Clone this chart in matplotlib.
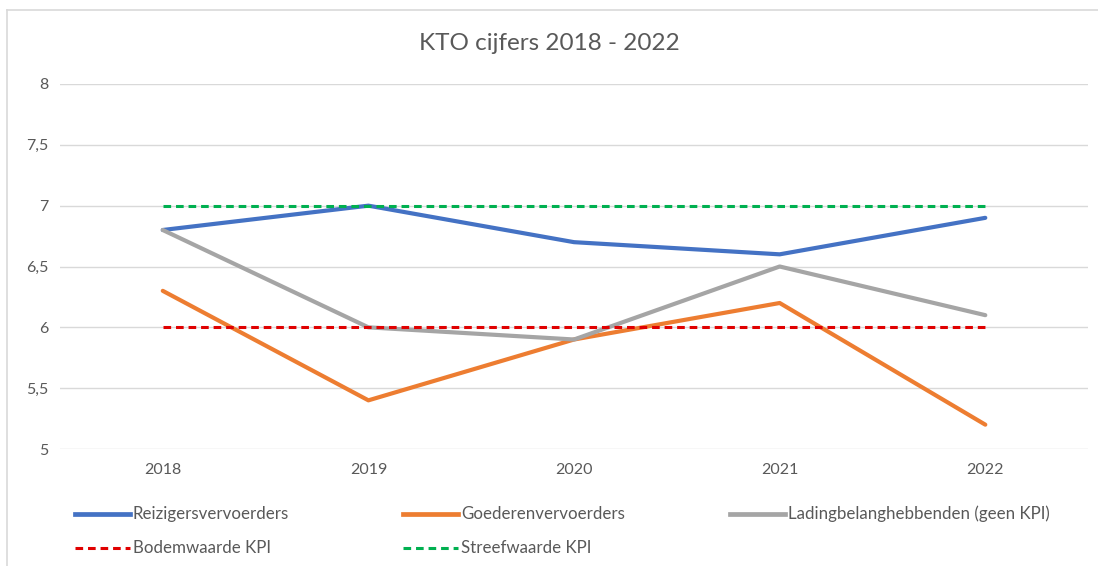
import matplotlib
matplotlib.use('Agg')
import matplotlib.pyplot as plt
from matplotlib.lines import Line2D

plt.rcParams['font.family'] = ['Lato', 'DejaVu Sans']

years = ['2018', '2019', '2020', '2021', '2022']
reizigers = [6.8, 7.0, 6.7, 6.6, 6.9]
goederen = [6.3, 5.4, 5.9, 6.2, 5.2]
lading = [6.8, 6.0, 5.9, 6.5, 6.1]
bodem = [6, 6, 6, 6, 6]
streef = [7, 7, 7, 7, 7]
yticks = [5, 5.5, 6, 6.5, 7, 7.5, 8]
ytick_labels = ['5', '5,5', '6', '6,5', '7', '7,5', '8']

C_TEXT = '#595959'
C_GRID = '#D9D9D9'
DASH = (2.5, 1.6)

fig = plt.figure(figsize=(10.98, 5.66), dpi=100)
ax = fig.add_axes([0.0546, 0.2067, 0.9364, 0.6449])

x = range(len(years))
series = [
    (reizigers, '#4472C4', False, 3.0, 'Reizigersvervoerders'),
    (goederen, '#ED7D31', False, 3.0, 'Goederenvervoerders'),
    (lading, '#A5A5A5', False, 3.0, 'Ladingbelanghebbenden (geen KPI)'),
    (bodem, '#E00000', True, 2.2, 'Bodemwaarde KPI'),
    (streef, '#00B050', True, 2.2, 'Streefwaarde KPI'),
]
for vals, col, dashed, lw, lab in series:
    if dashed:
        ax.plot(x, vals, color=col, lw=lw, linestyle='--', dashes=DASH, zorder=3)
    else:
        ax.plot(x, vals, color=col, lw=lw, zorder=3,
                solid_capstyle='round', solid_joinstyle='round')

ax.set_xlim(-0.5, len(years) - 0.5)
ax.set_ylim(5, 8)
ax.set_xticks(list(x))
ax.set_xticklabels(years)
ax.set_yticks(yticks)
ax.set_yticklabels(ytick_labels)
ax.tick_params(length=0, labelsize=11.5, colors=C_TEXT, pad=8)
ax.tick_params(axis='x', pad=10)
ax.grid(axis='y', color=C_GRID, lw=1.0, zorder=0)
for s in ax.spines.values():
    s.set_visible(False)

fig.text(0.5, 0.924, 'KTO cijfers 2018 - 2022', ha='center', va='center',
         fontsize=17.5, color=C_TEXT)

# legend, laid out like the Excel one (3 columns, 2 rows)
pos = [(0.068, 0.092), (0.367, 0.092), (0.665, 0.092),
       (0.068, 0.032), (0.367, 0.032)]
for (vals, col, dashed, lw, lab), (lx, ly) in zip(series, pos):
    if dashed:
        ln = Line2D([lx, lx + 0.05], [ly, ly], color=col, lw=lw,
                    linestyle='--', dashes=DASH)
    else:
        ln = Line2D([lx, lx + 0.05], [ly, ly], color=col, lw=3.4)
    fig.add_artist(ln)
    fig.text(lx + 0.053, ly, lab, ha='left', va='center',
             fontsize=12.2, color=C_TEXT)

# chart border
fig.add_artist(Line2D([0.006, 0.006], [0.0, 0.983], color='#D9D9D9', lw=1.2))
fig.add_artist(Line2D([0.006, 1.0], [0.983, 0.983], color='#D9D9D9', lw=1.2))

fig.savefig('out.png', dpi=100, facecolor='white')
